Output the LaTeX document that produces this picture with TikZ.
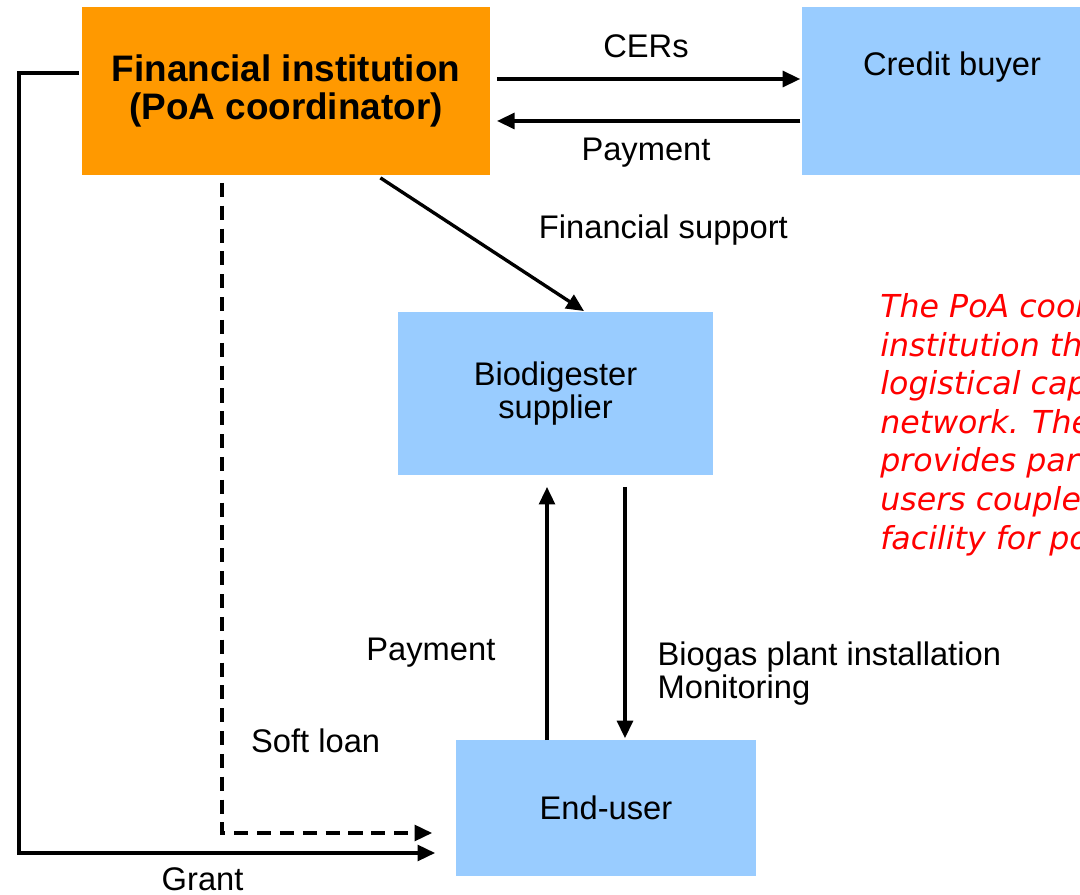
\documentclass[tikz,border=0pt]{standalone}
\usepackage{fontspec}
\setmainfont{Liberation Sans}
\newfontfamily\notefont{DejaVu Sans}
\usetikzlibrary{arrows.meta, positioning}
\definecolor{fiorange}{HTML}{FF9900}
\definecolor{boxblue}{HTML}{99CCFF}

\begin{document}
\begin{tikzpicture}[x=0.02cm, y=-0.02cm,
                box style/.style={rectangle, fill=boxblue, inner sep=0pt, outer sep=0pt, align=center, font=\fontsize{18.6}{18.5}\selectfont},
                lbl style/.style={inner sep=0pt, font=\fontsize{18.6}{18.5}\selectfont},
                arr/.style={line width=1.9pt, -{Triangle[length=10pt, width=9pt]}}
]

    % Page frame
        \path[use as bounding box] (0,0) rectangle (1080,895);
        \clip (0,0) rectangle (1080,895);

    % Boxes
        \node[box style, fill=fiorange, minimum width=8.16cm, minimum height=3.36cm,
              font=\bfseries\fontsize{21}{21.5}\selectfont] (FI) at (286,91) {Financial institution\\(PoA coordinator)};
        \node[box style, minimum width=5.96cm, minimum height=3.36cm] (CB) at (951,91) {};
        \node[lbl style] (CBtext) at (952,67) {Credit buyer};
        \node[box style, minimum width=6.3cm, minimum height=3.26cm] (BS) at (555.5,393.5) {Biodigester\\supplier};
        \node[box style, minimum width=6cm, minimum height=2.72cm] (EU) at (606,808) {End-user};

    % Note on the right
        \node[anchor=north west, inner sep=0pt, align=left, text=red,
              font=\notefont\itshape\fontsize{18}{22}\selectfont] (note) at (880,293)
              {The PoA coor\\institution th\\logistical cap\\network. The\\provides par\\users couple\\facility for po};

    % Credit flows
        \draw[arr, shorten <=4pt, shorten >=1pt] ([yshift=0.24cm]FI.east) -- ([yshift=0.24cm]CB.west)
              node[lbl style, midway, above=0.4cm] {CERs};
        \draw[arr, shorten <=1pt, shorten >=4pt] ([yshift=-0.6cm]CB.west) -- ([yshift=-0.6cm]FI.east)
              node[lbl style, midway, below=0.3cm] {Payment};
        \draw[arr, shorten <=3pt, shorten >=1pt] ([xshift=1.8cm]FI.south) -- ([xshift=0.6cm]BS.north)
              node[lbl style, pos=0.4, right=1.55cm] {Financial support};

    % Supplier and end-user
        \draw[arr, shorten >=6.8pt] ([xshift=-1.18cm]EU.north) -- ([xshift=-1.18cm]EU.north |- BS.south)
              node[lbl style, pos=0.33, left=1.0cm] {Payment};
        \draw[arr, shorten <=6.8pt, shorten >=1pt] ([xshift=0.38cm]EU.north |- BS.south) -- ([xshift=0.38cm]EU.north)
              node[lbl style, pos=0.75, right=0.62cm, align=left] {Biogas plant installation\\Monitoring};

    % Loan and grant
        \draw[arr, dash pattern=on 8pt off 5pt, shorten <=4.5pt, shorten >=13.6pt]
              ([xshift=-1.28cm]FI.south) |- ([yshift=-0.5cm]EU.west)
              node[lbl style, pos=0.43, right=0.55cm] {Soft loan};
        \draw[arr, shorten <=2pt, shorten >=11.9pt]
              ([yshift=0.36cm]FI.west) -- ++(-63,0) |- ([yshift=-0.9cm]EU.west)
              node[lbl style, pos=0.71, below=0.27cm] {Grant};
\end{tikzpicture}
\end{document}
